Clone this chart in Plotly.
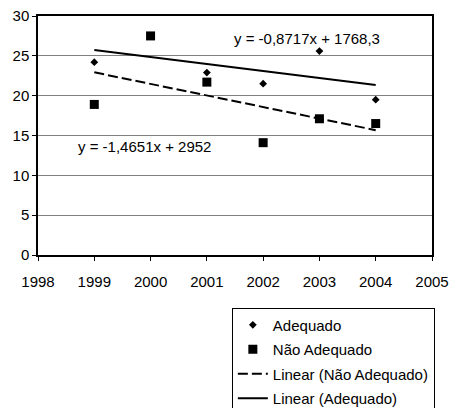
import numpy as np
import plotly.graph_objects as go

years = [1999, 2000, 2001, 2002, 2003, 2004]
adequado = [24.2, 27.5, 22.9, 21.5, 25.6, 19.5]
nao_adequado = [18.9, 27.5, 21.7, 14.1, 17.1, 16.5]
eq_adequado = "y = -0,8717x + 1768,3"
eq_nao_adequado = "y = -1,4651x + 2952"

FONT = "Liberation Sans, Arial, sans-serif"
FS = 15

xa = np.array(years, dtype=float)
pa = np.polyfit(xa, np.array(adequado), 1)
pn = np.polyfit(xa, np.array(nao_adequado), 1)
xl = np.array([min(years), max(years)], dtype=float)

fig = go.Figure()
fig.add_trace(go.Scatter(x=years, y=adequado, mode="markers", name="Adequado",
                         legendgroup="a",
                         marker=dict(symbol="diamond", size=6, color="black")))
fig.add_trace(go.Scatter(x=years, y=nao_adequado, mode="markers", name="Não Adequado",
                         legendgroup="b",
                         marker=dict(symbol="square", size=9, color="black")))
fig.add_trace(go.Scatter(x=xl, y=np.polyval(pn, xl), mode="lines",
                         name="Linear (Não Adequado)", legendgroup="c",
                         line=dict(color="black", width=2, dash="10px,4px")))
fig.add_trace(go.Scatter(x=xl, y=np.polyval(pa, xl), mode="lines",
                         name="Linear (Adequado)", legendgroup="d",
                         line=dict(color="black", width=2)))

fig.add_annotation(x=2002.78, y=27.2, xref="x", yref="y", text=eq_adequado,
                   showarrow=False, font=dict(family=FONT, size=FS, color="black"))
fig.add_annotation(x=1999.9, y=13.66, xref="x", yref="y", text=eq_nao_adequado,
                   showarrow=False, font=dict(family=FONT, size=FS, color="black"))

fig.update_xaxes(range=[1998, 2005], dtick=1, tick0=1998, showgrid=False,
                 showline=True, linecolor="black", linewidth=1.5, mirror=True,
                 ticks="outside", ticklen=4, tickcolor="black", ticklabelstandoff=8,
                 tickfont=dict(family=FONT, size=FS, color="black"), zeroline=False)
fig.update_yaxes(range=[0, 30], dtick=5, showgrid=True, gridcolor="#808080", gridwidth=1,
                 showline=True, linecolor="black", linewidth=1.5, mirror=True,
                 ticks="outside", ticklen=4, tickcolor="black",
                 tickfont=dict(family=FONT, size=FS, color="black"), zeroline=False)

fig.update_layout(
    width=450, height=408,
    margin=dict(l=38, r=18, t=16, b=153, autoexpand=False),
    paper_bgcolor="white", plot_bgcolor="white",
    font=dict(family=FONT, size=FS, color="black"),
    legend=dict(x=0.492, y=-0.22, xanchor="left", yanchor="top",
                bordercolor="black", borderwidth=1, bgcolor="white",
                tracegroupgap=2, itemwidth=30,
                font=dict(family=FONT, size=FS, color="black")),
)

fig.write_html("out.html",
               config={"displayModeBar": False},
               post_script="document.body.style.margin='0';document.body.style.overflow='hidden';")
